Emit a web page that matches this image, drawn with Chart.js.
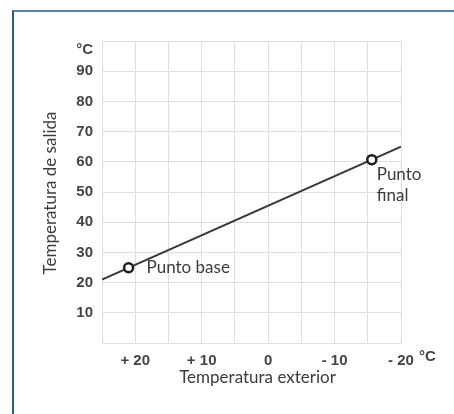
<!DOCTYPE html>
<html lang="es">
<head>
   <meta charset="UTF-8">
   <title>Curva de calefacción</title>
   <script src="https://cdn.jsdelivr.net/npm/chart.js"></script>
   <style>
      body {
         margin: 0;
         padding: 0;
         background: #fff;
      }
      .wrap {
         position: relative;
         width: 454px;
         height: 414px;
         overflow: hidden;
      }
      .frame {
         position: absolute;
         left: 12px;
         top: 10px;
         width: 460px;
         height: 420px;
         border-top: 2px solid #5585ae;
         border-left: 2px solid #2a5d8a;
         box-sizing: border-box;
      }
      canvas {
         position: absolute;
         left: 0;
         top: 0;
      }
   </style>
</head>
<body>
   <div class="wrap">
      <div class="frame"></div>
      <canvas id="curveChart" width="454" height="414"></canvas>
   </div>

   <script>
      // Data
      const outsideRange = [-20, 25];        // Temperatura exterior (reversed axis)
      const flowRange = [0, 100];            // Temperatura de salida
      const curveLine = [{ x: 25, y: 21 }, { x: -20, y: 65 }];
      const keyPoints = [{ x: 21, y: 24.9 }, { x: -15.6, y: 60.7 }];
      const keyLabels = [["Punto base"], ["Punto", "final"]];
      const xTitle = "Temperatura exterior";
      const yTitle = "Temperatura de salida";
      const unit = "°C";

      const gridColor = "#dedede";
      const tickFont = { family: "'Liberation Sans', Arial, sans-serif", size: 15, weight: "bold" };
      const textFont = "17px Lato, 'Open Sans', sans-serif";

      function fmtOutside(v) {
         if (v % 10 !== 0) return "";
         if (v > 0) return "+ " + v;
         if (v < 0) return "- " + Math.abs(v);
         return "0";
      }

      // Draws the annotations, axis titles and unit marks
      const textPlugin = {
         id: "texts",
         afterDraw(chart) {
            const ctx = chart.ctx;
            const area = chart.chartArea;
            const xs = chart.scales.x;
            const ys = chart.scales.y;
            ctx.save();

            ctx.fillStyle = "#3c3c3c";
            ctx.font = textFont;
            ctx.textBaseline = "middle";
            ctx.textAlign = "left";
            // Punto base
            const bx = xs.getPixelForValue(keyPoints[0].x);
            const by = ys.getPixelForValue(keyPoints[0].y);
            ctx.fillText(keyLabels[0][0], bx + 18, by);
            // Punto final
            const fx = xs.getPixelForValue(keyPoints[1].x);
            const fy = ys.getPixelForValue(keyPoints[1].y);
            ctx.fillText(keyLabels[1][0], fx + 5, fy + 15);
            ctx.fillText(keyLabels[1][1], fx + 5, fy + 36);

            // axis titles
            ctx.textAlign = "center";
            ctx.fillText(xTitle, (area.left + area.right) / 2 + 6, area.bottom + 35);
            ctx.save();
            ctx.translate(51, (area.top + area.bottom) / 2 + 1);
            ctx.rotate(-Math.PI / 2);
            ctx.fillText(yTitle, 0, 0);
            ctx.restore();

            // unit marks
            ctx.fillStyle = "#444444";
            ctx.font = "bold 15px 'Liberation Sans', Arial, sans-serif";
            ctx.textAlign = "right";
            ctx.fillText(unit, area.left - 9, area.top + 9);
            ctx.textAlign = "left";
            ctx.fillText(unit, area.right + 18, area.bottom + 14);

            ctx.restore();
         }
      };

      new Chart(document.getElementById("curveChart"), {
         type: "scatter",
         data: {
            datasets: [
               {
                  label: "Puntos",
                  data: keyPoints,
                  pointRadius: 4.5,
                  pointBorderWidth: 2.5,
                  pointBorderColor: "#1c1c1c",
                  pointBackgroundColor: "#ffffff",
                  order: 0
               },
               {
                  type: "line",
                  label: "Curva",
                  data: curveLine,
                  borderColor: "#3a3a3a",
                  borderWidth: 2,
                  pointRadius: 0,
                  fill: false,
                  order: 1
               }
            ]
         },
         options: {
            responsive: false,
            animation: false,
            layout: { padding: { top: 41, right: 53, left: 0, bottom: 0 } },
            plugins: {
               legend: { display: false },
               tooltip: { enabled: false }
            },
            scales: {
               x: {
                  type: "linear",
                  reverse: true,
                  min: outsideRange[0],
                  max: outsideRange[1],
                  grid: { color: gridColor, drawTicks: false },
                  border: { color: gridColor },
                  afterFit(scale) { scale.height = 71; },
                  ticks: {
                     stepSize: 5,
                     padding: 9,
                     autoSkip: false,
                     maxRotation: 0,
                     color: "#444444",
                     font: tickFont,
                     callback: v => fmtOutside(v)
                  }
               },
               y: {
                  min: flowRange[0],
                  max: flowRange[1],
                  grid: { color: gridColor, drawTicks: false },
                  border: { color: gridColor },
                  afterFit(scale) { scale.width = 102; },
                  ticks: {
                     stepSize: 10,
                     padding: 9,
                     color: "#444444",
                     font: tickFont,
                     callback: v => (v === 0 || v === 100) ? "" : v
                  }
               }
            }
         },
         plugins: [textPlugin]
      });
   </script>
</body>
</html>
